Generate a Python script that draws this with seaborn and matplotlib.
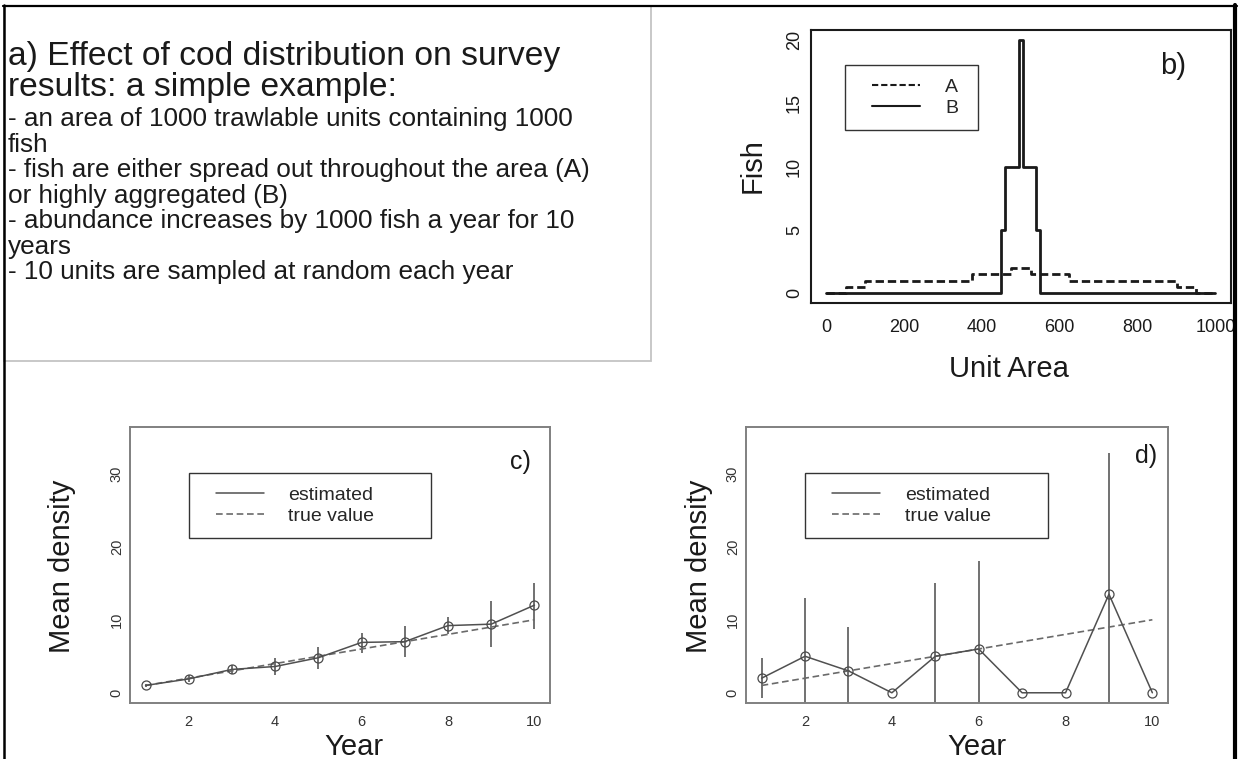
import matplotlib
matplotlib.use("Agg")
import matplotlib.pyplot as plt
import seaborn as sns
import pandas as pd
from matplotlib.lines import Line2D
from matplotlib.patches import Rectangle
from matplotlib.legend_handler import HandlerLine2D

# ---------------- data ----------------
panel_a_head = ["a) Effect of cod distribution on survey",
                "results: a simple example:"]
panel_a_body = ["- an area of 1000 trawlable units containing 1000",
                "fish",
                "- fish are either spread out throughout the area (A)",
                "or highly aggregated (B)",
                "- abundance increases by 1000 fish a year for 10",
                "years",
                "- 10 units are sampled at random each year"]

dist_a_x = [0, 50, 100, 375, 475, 525, 625, 900, 950, 1000]
dist_a_y = [0, 0.5, 1, 1.5, 2, 1.5, 1, 0.5, 0, 0]
dist_b_x = [0, 450, 460, 495, 505, 540, 550, 1000]
dist_b_y = [0, 5, 10, 20, 10, 5, 0, 0]
b_xticks = [0, 200, 400, 600, 800, 1000]
b_yticks = [0, 5, 10, 15, 20]
b_legend = ["A", "B"]

years = [1, 2, 3, 4, 5, 6, 7, 8, 9, 10]
true_value = [1, 2, 3, 4, 5, 6, 7, 8, 9, 10]
c_est = [1.0, 1.9, 3.2, 3.6, 4.8, 6.9, 7.0, 9.2, 9.4, 12.0]
c_low = [0.8, 1.5, 2.6, 2.4, 3.2, 5.4, 4.9, 8.1, 6.3, 8.8]
c_high = [1.2, 2.4, 3.8, 4.7, 6.3, 8.2, 9.1, 10.4, 12.6, 15.1]
d_est = [2, 5, 3, 0, 5, 6, 0, 0, 13.5, 0]
d_low = [-0.7, -3, -3, 0, -5, -6, 0, 0, -5.8, 0]
d_high = [4.7, 13, 9, 0, 15, 18, 0, 0, 32.8, 0]
year_ticks = [2, 4, 6, 8, 10]
density_ticks = [0, 10, 20, 30]
cd_legend = ["estimated", "true value"]

# ---------------- style ----------------
sns.set_style("white")
plt.rcParams["font.family"] = ["Liberation Sans", "DejaVu Sans"]
plt.rcParams["axes.unicode_minus"] = False

W, H = 1242, 759
fig = plt.figure(figsize=(W / 100, H / 100), dpi=100)
fig.patch.set_facecolor("white")


def px_axes(l, t, r, b):
    return fig.add_axes([l / W, (H - b) / H, (r - l) / W, (b - t) / H])


# ---------------- panel a (text box) ----------------
fig.add_artist(Rectangle((4 / W, (H - 360.7) / H), (650.7 - 4) / W, (360.7 - 5.7) / H,
                         transform=fig.transFigure, fill=False, ec="#c4c4c4", lw=1.3))
head_base = [65, 96]
for txt, yb in zip(panel_a_head, head_base):
    fig.text(8 / W, 1 - yb / H, txt, fontsize=24.2, va="baseline", ha="left", color="#1a1a1a")
body_base = [126, 151.5, 177, 202.5, 228, 253.5, 279]
for txt, yb in zip(panel_a_body, body_base):
    fig.text(8 / W, 1 - yb / H, txt, fontsize=18.8, va="baseline", ha="left", color="#1a1a1a")

# ---------------- panel b ----------------
axb = px_axes(810.7, 30, 1231, 303.3)
dfa = pd.DataFrame({"unit": dist_a_x, "fish": dist_a_y})
dfb = pd.DataFrame({"unit": dist_b_x, "fish": dist_b_y})
sns.lineplot(data=dfa, x="unit", y="fish", ax=axb, color="#1a1a1a", lw=2.0,
             drawstyle="steps-post", estimator=None, legend=False)
axb.lines[-1].set_dashes((3, 1.4))
sns.lineplot(data=dfb, x="unit", y="fish", ax=axb, color="#1a1a1a", lw=2.0,
             drawstyle="steps-post", estimator=None, legend=False)
axb.set_xlim(-40, 1040)
axb.set_ylim(-0.8, 20.8)
axb.set_xticks(b_xticks)
axb.set_yticks(b_yticks)
axb.tick_params(axis="both", direction="out", length=4.5, width=1.2, colors="#1a1a1a",
                labelsize=13)
axb.tick_params(axis="x", pad=6.5)
axb.tick_params(axis="y", pad=1, labelrotation=90)
for lab in axb.get_yticklabels():
    lab.set_va("center")
for s in axb.spines.values():
    s.set_color("#1a1a1a")
    s.set_linewidth(1.5)
axb.set_xlabel("Unit Area", fontsize=21, color="#1a1a1a")
axb.set_ylabel("Fish", fontsize=21, color="#1a1a1a")
axb.xaxis.set_label_coords(0.472, -0.27)
axb.xaxis.label.set_va("baseline")
axb.yaxis.set_label_coords(-0.118, 0.504)
axb.yaxis.label.set_va("baseline")
axb.text(0.862, 0.868, "b)", transform=axb.transAxes, fontsize=21, ha="center",
         va="center", color="#1a1a1a")
hb = [Line2D([], [], color="#1a1a1a", lw=1.5, dashes=(3, 1.4)),
      Line2D([], [], color="#1a1a1a", lw=1.5)]
legb = axb.legend(hb, b_legend, loc="upper left", mode="expand",
                  bbox_to_anchor=(0.0816, 0.6304, 0.3164, 0.2416), borderaxespad=0,
                  fontsize=14, frameon=True, fancybox=False, framealpha=1,
                  borderpad=0.68, labelspacing=0.16, handlelength=3.17,
                  handletextpad=1.29, handler_map={Line2D: HandlerLine2D(xpad=0.7)})
legb.get_frame().set_edgecolor("#333333")
legb.get_frame().set_linewidth(1.0)


# ---------------- panels c and d ----------------
def density_panel(box, est, low, high, label, label_pos, ylab_x, xlab_x):
    ax = px_axes(*box)
    df_true = pd.DataFrame({"year": years, "density": true_value})
    df_est = pd.DataFrame({"year": years, "density": est})
    ax.vlines(years, low, high, colors="#4a4a4a", lw=1.1, zorder=2)
    sns.lineplot(data=df_true, x="year", y="density", ax=ax, color="#6a6a6a", lw=1.2,
                 estimator=None, legend=False, zorder=3)
    ax.lines[-1].set_dashes((4, 2.2))
    sns.lineplot(data=df_est, x="year", y="density", ax=ax, color="#505050", lw=1.1,
                 marker="o", markersize=6.5, markerfacecolor="none",
                 markeredgecolor="#4a4a4a", markeredgewidth=0.9,
                 estimator=None, legend=False, zorder=4)
    ax.set_xlim(0.64, 10.36)
    ax.set_ylim(-1.4, 36.4)
    ax.set_xticks(year_ticks)
    ax.set_yticks(density_ticks)
    ax.tick_params(axis="both", direction="out", length=4.0, width=1.0, colors="#808080",
                   labelcolor="#333333", labelsize=10.5)
    ax.tick_params(axis="x", pad=4.5)
    ax.tick_params(axis="y", pad=0.5, labelrotation=90)
    for lab in ax.get_yticklabels():
        lab.set_va("center")
    for s in ax.spines.values():
        s.set_color("#808080")
        s.set_linewidth(1.4)
    ax.set_xlabel("Year", fontsize=21, color="#1a1a1a")
    ax.set_ylabel("Mean density", fontsize=21, color="#1a1a1a")
    ax.xaxis.set_label_coords(xlab_x, -0.188)
    ax.xaxis.label.set_va("baseline")
    ax.yaxis.set_label_coords(ylab_x, 0.497)
    ax.yaxis.label.set_va("baseline")
    ax.text(label_pos[0], label_pos[1], label, transform=ax.transAxes, fontsize=18,
            ha="center", va="center", color="#1a1a1a")
    hh = [Line2D([], [], color="#505050", lw=1.1),
          Line2D([], [], color="#6a6a6a", lw=1.2, dashes=(4, 2.2))]
    leg = ax.legend(hh, cd_legend, loc="upper left", mode="expand",
                    bbox_to_anchor=(0.14, 0.589, 0.576, 0.244), borderaxespad=0,
                    fontsize=14, frameon=True, fancybox=False, framealpha=1,
                    borderpad=0.68, labelspacing=0.16, handlelength=3.17,
                    handletextpad=1.27, handler_map={Line2D: HandlerLine2D(xpad=0.7)})
    leg.get_frame().set_edgecolor("#333333")
    leg.get_frame().set_linewidth(1.0)
    return ax


density_panel((130, 427, 550, 703), c_est, c_low, c_high, "c)", (0.929, 0.873), -0.144, 0.532)
density_panel((746, 427, 1168, 703), d_est, d_low, d_high, "d)", (0.948, 0.895), -0.0936, 0.546)

# ---------------- outer frame ----------------
fig.add_artist(Line2D([3 / W, 1237 / W], [1 - 5.7 / H, 1 - 5.7 / H], transform=fig.transFigure,
                      color="black", lw=1.6))
fig.add_artist(Line2D([4 / W, 4 / W], [0, 1 - 5 / H], transform=fig.transFigure,
                      color="black", lw=1.8))
fig.add_artist(Line2D([1235 / W, 1235 / W], [0, 1 - 5 / H], transform=fig.transFigure,
                      color="black", lw=3.0))

fig.savefig("out.png", dpi=100, facecolor="white")
